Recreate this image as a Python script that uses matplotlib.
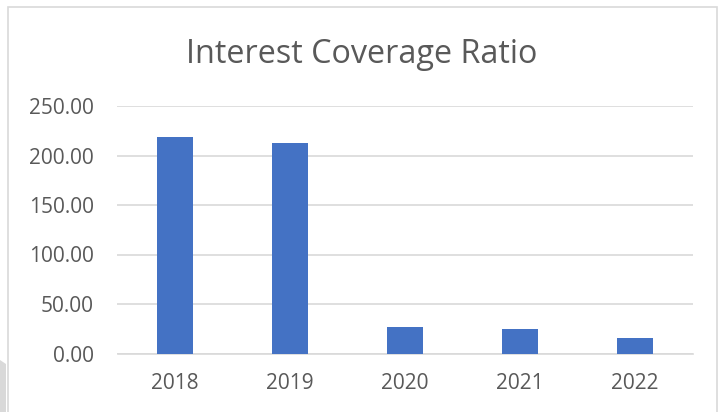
import matplotlib
matplotlib.use("Agg")
import matplotlib.pyplot as plt
from matplotlib.patches import Rectangle, Polygon

years = ["2018", "2019", "2020", "2021", "2022"]
ratios = [218.5, 212.3, 26.5, 24.4, 15.7]
yticks = [0, 50, 100, 150, 200, 250]

W, H = 724, 412
plt.rcParams['font.family'] = ['Open Sans', 'DejaVu Sans']
fig = plt.figure(figsize=(W / 100, H / 100), dpi=100)

# chart area border
fig.patches.append(Rectangle((8 / W, -0.01), 709 / W, 1 - 7 / H + 0.01, transform=fig.transFigure,
                             fill=False, edgecolor='#d9d9d9', linewidth=1.2))
fig.patches.append(Polygon([(0, 0), (0, 52 / H), (6 / W, 48 / H), (6 / W, 0)], closed=True,
                           transform=fig.transFigure, facecolor='#d9d9d9', edgecolor='none'))

ax = fig.add_axes([117.5 / W, (H - 353.5) / H, 575 / W, 247.5 / H])
x = list(range(len(years)))
ax.bar(x, ratios, width=0.31, color='#4472C4', zorder=3)
ax.set_xlim(-0.5, len(years) - 0.5)
ax.set_ylim(0, 250)
ax.set_yticks(yticks)
ax.set_yticklabels([f"{v:.2f}" for v in yticks])
ax.set_xticks(x)
ax.set_xticklabels(years)
ax.grid(axis='y', color='#d9d9d9', linewidth=1.2, zorder=0)
for s in ['top', 'right', 'left']:
    ax.spines[s].set_visible(False)
ax.spines['bottom'].set_color('#d9d9d9')
ax.spines['bottom'].set_linewidth(1.2)
ax.tick_params(axis='both', length=0, labelsize=15, labelcolor='#595959')
ax.tick_params(axis='y', pad=17)
ax.tick_params(axis='x', pad=14)

fig.text(0.5, 1 - 63.3 / H, "Interest Coverage Ratio", ha='center', va='baseline',
         fontsize=23.3, color='#595959')

fig.savefig("out.png", dpi=100)
